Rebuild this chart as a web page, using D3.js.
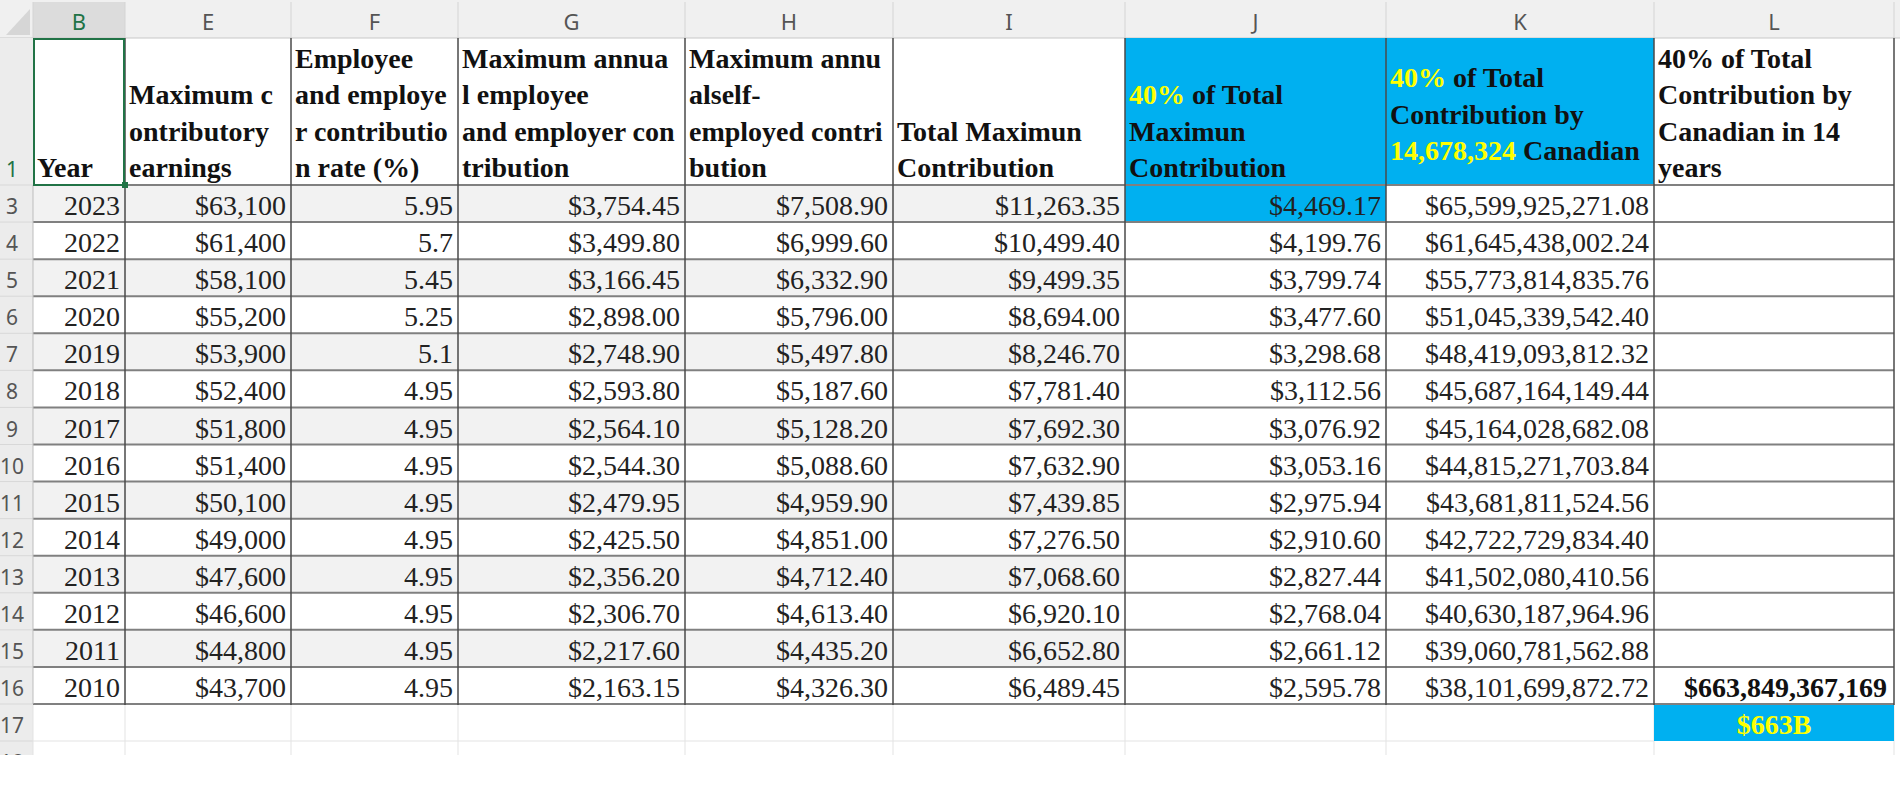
<!DOCTYPE html>
<html><head><meta charset="utf-8">
<script src="https://cdn.jsdelivr.net/npm/d3@7"></script>
<style>html,body{margin:0;padding:0;background:#fff;overflow:hidden}</style>
</head><body>
<svg id="chart" width="1900" height="800"></svg>
<script>
// ---------- DATA ----------
const colLetters = ["B","E","F","G","H","I","J","K","L"];
const headerB = [["Year"]];
const headerE = [["Maximum c"],["ontributory"],["earnings"]];
const headerF = [["Employee"],["and employe"],["r contributio"],["n rate (%)"]];
const headerG = [["Maximum annua"],["l employee"],["and employer con"],["tribution"]];
const headerH = [["Maximum annu"],["alself-"],["employed contri"],["bution"]];
const headerI = [["Total Maximun"],["Contribution"]];
const headerJ = [["40%","y"," of Total"],["Maximun"],["Contribution"]];
const headerK = [["40%","y"," of Total"],["Contribution by"],["14,678,324","y"," Canadian"]];
const headerL = [["40% of Total"],["Contribution by"],["Canadian in 14"],["years"]];
const years = [2023,2022,2021,2020,2019,2018,2017,2016,2015,2014,2013,2012,2011,2010];
const rowNumbers = [3,4,5,6,7,8,9,10,11,12,13,14,15,16];
const maxEarnings = [63100,61400,58100,55200,53900,52400,51800,51400,50100,49000,47600,46600,44800,43700];
const contribRate = ["5.95","5.7","5.45","5.25","5.1","4.95","4.95","4.95","4.95","4.95","4.95","4.95","4.95","4.95"];
const employeeEmployer = [3754.45,3499.80,3166.45,2898.00,2748.90,2593.80,2564.10,2544.30,2479.95,2425.50,2356.20,2306.70,2217.60,2163.15];
const selfEmployed = [7508.90,6999.60,6332.90,5796.00,5497.80,5187.60,5128.20,5088.60,4959.90,4851.00,4712.40,4613.40,4435.20,4326.30];
const totalMax = [11263.35,10499.40,9499.35,8694.00,8246.70,7781.40,7692.30,7632.90,7439.85,7276.50,7068.60,6920.10,6652.80,6489.45];
const fortyPct = [4469.17,4199.76,3799.74,3477.60,3298.68,3112.56,3076.92,3053.16,2975.94,2910.60,2827.44,2768.04,2661.12,2595.78];
const fortyPctCanadians = [65599925271.08,61645438002.24,55773814835.76,51045339542.40,48419093812.32,45687164149.44,45164028682.08,44815271703.84,43681811524.56,42722729834.40,41502080410.56,40630187964.96,39060781562.88,38101699872.72];
const grandTotal = 663849367169;
const grandTotalShort = "$663B";

// ---------- LAYOUT ----------
const svg = d3.select("#chart");
const BLUE = "#00b0f0", YEL = "#ffff00";
const edges = [33,125,291,458,685,893,1125,1386,1654,1894];
const xL = d3.scaleOrdinal().domain(colLetters).range(edges.slice(0,-1));
const xR = d3.scaleOrdinal().domain(colLetters).range(edges.slice(1));
const y = d3.scaleBand().domain(years).range([185,704]).padding(0);
const bw = y.bandwidth();
const serif = "'Liberation Serif','Times New Roman',serif";
const sans = "'Noto Sans','Open Sans',sans-serif";

svg.append("rect").attr("width",1900).attr("height",800).attr("fill","#fff");

// column-letter bar
svg.append("rect").attr("x",0).attr("y",0).attr("width",1900).attr("height",38).attr("fill","#f0f0f0");
svg.append("rect").attr("x",xL("B")).attr("y",2).attr("width",xR("B")-xL("B")).attr("height",36).attr("fill","#dcdcdc");
svg.append("path").attr("d","M6,35 L30,35 L30,9 Z").attr("fill","#d6d6d6");
svg.selectAll("line.colsep").data(edges).join("line").attr("class","colsep")
  .attr("x1",d=>d).attr("x2",d=>d).attr("y1",2).attr("y2",38).attr("stroke","#d4d4d4");
svg.append("line").attr("x1",0).attr("x2",1900).attr("y1",38).attr("y2",38).attr("stroke","#c8c8c8");
svg.selectAll("text.colLetter").data(colLetters).join("text").attr("class","colLetter")
  .attr("x",d=>(xL(d)+xR(d))/2).attr("y",30).attr("text-anchor","middle")
  .attr("font-family",sans).attr("font-size",22)
  .attr("fill",d=>d==="B"?"#217346":"#555").text(d=>d);

// row header column
svg.append("rect").attr("x",0).attr("y",38).attr("width",33).attr("height",717).attr("fill","#ececec");
const rowLabels = [{n:"1",y:177}].concat(rowNumbers.map((n,i)=>({n:String(n),y:y(years[i])+bw-8})))
  .concat([{n:"17",y:704+bw-8},{n:"18",y:741+bw-8}]);
const clip = svg.append("clipPath").attr("id","cl").append("rect").attr("x",0).attr("y",0).attr("width",1900).attr("height",755);
const body = svg.append("g").attr("clip-path","url(#cl)");
body.selectAll("text.rowNum").data(rowLabels).join("text").attr("class","rowNum")
  .attr("x",12).attr("y",d=>d.y).attr("text-anchor","middle")
  .attr("font-family",sans).attr("font-size",21)
  .attr("fill",d=>d.n==="1"?"#217346":"#555").text(d=>d.n);
body.selectAll("line.rowsep").data([185].concat(years.map(yr=>y(yr)+bw)).concat([741]))
  .join("line").attr("x1",0).attr("x2",33).attr("y1",d=>d).attr("y2",d=>d).attr("stroke","#d8d8d8");

// header cells backgrounds
svg.append("rect").attr("x",xL("J")).attr("y",38).attr("width",xR("K")-xL("J")).attr("height",147).attr("fill",BLUE);

// striped rows (B..I)
svg.selectAll("rect.stripe").data(years.filter((d,i)=>i%2===0)).join("rect").attr("class","stripe")
  .attr("x",xL("B")).attr("y",d=>y(d)).attr("width",xR("I")-xL("B")).attr("height",bw).attr("fill","#f2f2f2");
// highlighted J3
svg.append("rect").attr("x",xL("J")).attr("y",y(2023)).attr("width",xR("J")-xL("J")).attr("height",bw).attr("fill",BLUE);
// L17
svg.append("rect").attr("x",xL("L")).attr("y",704).attr("width",xR("L")-xL("L")).attr("height",37).attr("fill",BLUE);

// faint grid rows 17-18
body.selectAll("line.faintV").data(edges).join("line").attr("class","faintV")
  .attr("x1",d=>d).attr("x2",d=>d).attr("y1",704).attr("y2",760).attr("stroke","#e3e3e3");
body.append("line").attr("x1",33).attr("x2",xL("L")).attr("y1",741).attr("y2",741).attr("stroke","#e3e3e3");

// header text
const headers = {B:headerB,E:headerE,F:headerF,G:headerG,H:headerH,I:headerI,J:headerJ,K:headerK,L:headerL};
const LH = 36.5;
colLetters.forEach(c=>{
  const lines = headers[c];
  const lastBase = c==="K" ? 160 : 177;
  const t = svg.append("text").attr("font-family",serif).attr("font-weight","bold").attr("font-size",28).attr("fill","#111");
  lines.forEach((ln,i)=>{
    const yy = lastBase - (lines.length-1-i)*LH;
    // segments: [text, "y"?, text, ...]
    const segs = [];
    for(let k=0;k<ln.length;k++){
      if(ln[k+1]==="y"){segs.push({t:ln[k],c:YEL});k++;} else segs.push({t:ln[k],c:"#111"});
    }
    segs.forEach((s,j)=>{
      const ts = t.append("tspan").attr("fill",s.c).attr("xml:space","preserve").text(s.t);
      if(j===0) ts.attr("x",xL(c)+4).attr("y",yy);
    });
  });
});

// data columns
const fmtDollar = d3.format("$,");
const fmt2 = d3.format("$,.2f");
const cols = [
  {c:"B",vals:years,f:d=>String(d)},
  {c:"E",vals:maxEarnings,f:fmtDollar},
  {c:"F",vals:contribRate,f:d=>d},
  {c:"G",vals:employeeEmployer,f:fmt2},
  {c:"H",vals:selfEmployed,f:fmt2},
  {c:"I",vals:totalMax,f:fmt2},
  {c:"J",vals:fortyPct,f:fmt2},
  {c:"K",vals:fortyPctCanadians,f:fmt2}
];
cols.forEach(col=>{
  svg.append("g").selectAll("text").data(col.vals).join("text")
    .attr("x",xR(col.c)-5).attr("y",(d,i)=>y(years[i])+bw-7)
    .attr("text-anchor","end").attr("font-family",serif).attr("font-size",28).attr("fill","#222")
    .text(col.f);
});
svg.append("text").attr("x",xR("L")-7).attr("y",y(2010)+bw-7).attr("text-anchor","end")
  .attr("font-family",serif).attr("font-weight","bold").attr("font-size",28).attr("fill","#111")
  .text(d3.format("$,.0f")(grandTotal));
svg.append("text").attr("x",(xL("L")+xR("L"))/2).attr("y",704+37-7).attr("text-anchor","middle")
  .attr("font-family",serif).attr("font-weight","bold").attr("font-size",28).attr("fill",YEL)
  .text(grandTotalShort);

// table borders
svg.selectAll("line.hline").data([185].concat(years.map(yr=>y(yr)+bw))).join("line").attr("class","hline")
  .attr("x1",xL("B")).attr("x2",xR("L")).attr("y1",d=>d).attr("y2",d=>d).attr("stroke","#808080").attr("stroke-width",2);
svg.selectAll("line.vline").data(edges.slice(1)).join("line").attr("class","vline")
  .attr("x1",d=>d).attr("x2",d=>d).attr("y1",38).attr("y2",705).attr("stroke","#4a4a4a").attr("stroke-width",1.5);
svg.append("line").attr("x1",xL("B")).attr("x2",xL("B")).attr("y1",185).attr("y2",704).attr("stroke","#bdbdbd");

// selection on B1
svg.append("rect").attr("x",xL("B")+1).attr("y",39).attr("width",xR("B")-xL("B")-2).attr("height",146)
  .attr("fill","none").attr("stroke","#217346").attr("stroke-width",2);
svg.append("rect").attr("x",xR("B")-3).attr("y",182).attr("width",6).attr("height",6).attr("fill","#217346");
</script>
</body></html>
